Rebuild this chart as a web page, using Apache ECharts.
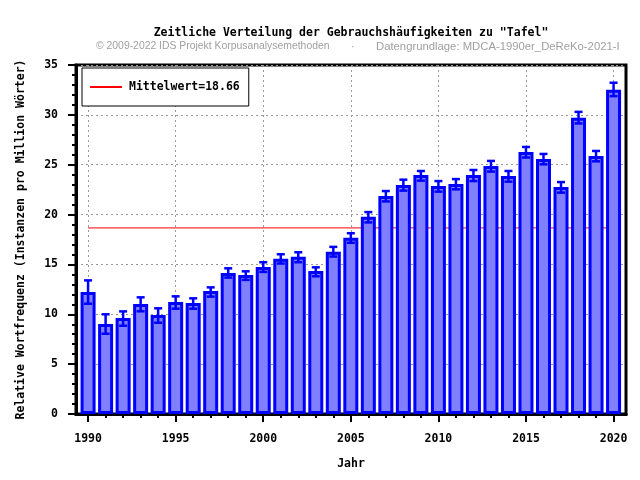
<!DOCTYPE html>
<html>
<head>
<meta charset="utf-8">
<script src="https://cdn.jsdelivr.net/npm/echarts@6/dist/echarts.min.js"></script>
<style>html,body{margin:0;padding:0;background:#fff}#c{width:640px;height:480px}</style>
</head>
<body>
<div id="c"></div>
<script>
const years = [1990,1991,1992,1993,1994,1995,1996,1997,1998,1999,2000,2001,2002,2003,2004,2005,2006,2007,2008,2009,2010,2011,2012,2013,2014,2015,2016,2017,2018,2019,2020];
const values = [12.24,9.02,9.62,11.03,9.92,11.23,11.13,12.34,14.15,13.95,14.75,15.56,15.76,14.35,16.26,17.67,19.78,21.86,22.96,23.97,22.86,23.06,23.97,24.87,23.87,26.28,25.58,22.76,29.7,25.88,32.52];
const errLow = [11.06,8.05,8.85,10.3,9.15,10.56,10.56,11.77,13.68,13.45,14.25,15.09,15.22,13.81,15.79,17.17,19.21,21.32,22.4,23.4,22.3,22.53,23.36,24.31,23.3,25.72,25.04,22.2,29.14,25.34,31.88];
const errHigh = [13.4,10.0,10.29,11.7,10.6,11.8,11.6,12.7,14.61,14.31,15.22,16.02,16.22,14.71,16.76,18.13,20.25,22.36,23.5,24.37,23.36,23.56,24.47,25.38,24.37,26.78,26.08,23.26,30.3,26.38,33.22];
const meanValue = 18.66;
const majorYears = [1990,1995,2000,2005,2010,2015,2020];

const mono = '"DejaVu Sans Mono", monospace';
const sans = '"Liberation Sans", Arial, sans-serif';
const chart = echarts.init(document.getElementById('c'));
const barData = years.map((y,i)=>[y, values[i]]);
const errData = years.map((y,i)=>[y, errLow[i], errHigh[i]]);

const xCommon = {
  type: 'value', min: 1989.31, max: 2020.71, position: 'bottom',
  axisLine: {show: true, onZero: false, lineStyle: {color: '#000', width: 3}}
};

chart.setOption({
  animation: false,
  grid: {left: 76, right: 14, top: 65, bottom: 66, show: true, borderColor: '#000', borderWidth: 3, containLabel: false},
  graphic: [
    {type: 'text', x: 351, y: 27, style: {text: 'Zeitliche Verteilung der Gebrauchshäufigkeiten zu "Tafel"', font: 'bold 11.5px ' + mono, fill: '#000', textAlign: 'center'}},
    {type: 'text', x: 96, y: 41, style: {text: '© 2009-2022 IDS Projekt Korpusanalysemethoden', font: '10.4px ' + sans, fill: '#a0a0a0'}},
    {type: 'text', x: 351, y: 41, style: {text: '·', font: '11px ' + sans, fill: '#a0a0a0'}},
    {type: 'text', x: 376, y: 41, style: {text: 'Datengrundlage: MDCA-1990er_DeReKo-2021-I', font: '11.3px ' + sans, fill: '#a0a0a0'}}
  ],
  legend: {
    left: 82, top: 68, orient: 'vertical',
    backgroundColor: '#fff', borderColor: '#000', borderWidth: 1,
    padding: [13, 9, 13, 7], itemWidth: 32, itemHeight: 14,
    itemStyle: {opacity: 0},
    textStyle: {fontFamily: mono, fontWeight: 'bold', fontSize: 11.5, color: '#000', padding: [0,0,0,2]},
    data: ['Mittelwert=18.66']
  },
  xAxis: [
    Object.assign({}, xCommon, {
      name: 'Jahr', nameLocation: 'middle', nameGap: 44,
      nameTextStyle: {fontFamily: mono, fontWeight: 'bold', fontSize: 11.5, color: '#000'},
      axisTick: {show: true, length: 8, lineStyle: {color: '#000', width: 2}, customValues: majorYears},
      axisLabel: {show: true, margin: 19, fontFamily: mono, fontWeight: 'bold', fontSize: 11.5, color: '#000', customValues: majorYears, formatter: v => String(v)},
      splitLine: {show: true, lineStyle: {color: '#999', type: [2, 3], width: 1}}
    }),
    Object.assign({}, xCommon, {
      axisTick: {show: true, length: 4, lineStyle: {color: '#000', width: 2}, customValues: years},
      axisLabel: {show: false},
      splitLine: {show: false}
    })
  ],
  yAxis: {
    type: 'value', min: 0, max: 35, interval: 5,
    name: 'Relative Wortfrequenz (Instanzen pro Million Wörter)', nameLocation: 'middle', nameGap: 49, nameRotate: 90,
    nameTextStyle: {fontFamily: mono, fontWeight: 'bold', fontSize: 11.5, color: '#000'},
    axisLine: {show: true, lineStyle: {color: '#000', width: 3}},
    axisTick: {show: true, length: 8, lineStyle: {color: '#000', width: 2}},
    minorTick: {show: true, splitNumber: 5, length: 4, lineStyle: {color: '#000', width: 2}},
    axisLabel: {margin: 18, fontFamily: mono, fontWeight: 'bold', fontSize: 11.5, color: '#000'},
    splitLine: {show: true, lineStyle: {color: '#999', type: [2, 3], width: 1}}
  },
  series: [
    {
      name: 'Mittelwert=18.66', type: 'line', xAxisIndex: 0, symbol: 'none', z: 1,
      lineStyle: {color: '#ff0000', width: 1}, itemStyle: {color: '#ff0000'},
      data: [[years[0], meanValue], [years[years.length-1], meanValue]]
    },
    {
      name: 'freq', type: 'bar', xAxisIndex: 0, barWidth: 15, z: 2,
      itemStyle: {color: '#8080ff', borderColor: '#0000ff', borderWidth: 3},
      data: barData
    },
    {
      name: 'err', type: 'custom', xAxisIndex: 0, z: 3,
      renderItem: function(params, api) {
        const x = api.value(0);
        const lo = api.coord([x, api.value(1)]);
        const hi = api.coord([x, api.value(2)]);
        const hw = 4;
        const st = {stroke: '#0000ff', lineWidth: 2.5};
        return {type: 'group', children: [
          {type: 'line', shape: {x1: lo[0], y1: lo[1], x2: hi[0], y2: hi[1]}, style: st},
          {type: 'line', shape: {x1: lo[0]-hw, y1: lo[1], x2: lo[0]+hw, y2: lo[1]}, style: st},
          {type: 'line', shape: {x1: hi[0]-hw, y1: hi[1], x2: hi[0]+hw, y2: hi[1]}, style: st}
        ]};
      },
      encode: {x: 0, y: [1, 2]},
      data: errData
    }
  ]
});
</script>
</body>
</html>
